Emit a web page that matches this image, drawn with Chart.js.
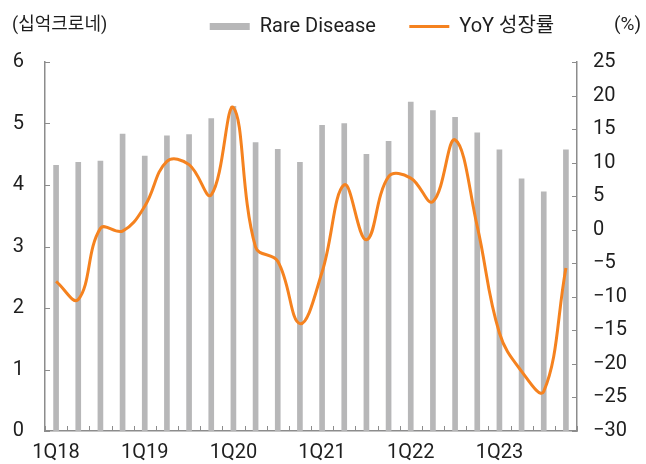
<!DOCTYPE html>
<html>
<head>
<meta charset="utf-8">
<script src="https://cdn.jsdelivr.net/npm/chart.js@4.4.1/dist/chart.umd.min.js"></script>
<style>
  html, body { margin: 0; padding: 0; background: #ffffff; }
  #wrap { width: 646px; height: 464px; }
</style>
</head>
<body>
<div id="wrap"><canvas id="c" width="646" height="464"></canvas></div>
<script>
// ---- data ----
const quarters = [
  '1Q18','2Q18','3Q18','4Q18',
  '1Q19','2Q19','3Q19','4Q19',
  '1Q20','2Q20','3Q20','4Q20',
  '1Q21','2Q21','3Q21','4Q21',
  '1Q22','2Q22','3Q22','4Q22',
  '1Q23','2Q23','3Q23','4Q23'
];
const rareDisease = [
  4.32, 4.37, 4.39, 4.83,
  4.47, 4.80, 4.82, 5.08,
  5.28, 4.69, 4.58, 4.37,
  4.97, 5.00, 4.50, 4.71,
  5.35, 5.21, 5.10, 4.85,
  4.57, 4.10, 3.89, 4.57
];
const yoyGrowth = [
  -7.7, -10.4, 0.2, -0.2,
  3.5, 10.2, 9.7, 5.2,
  18.2, -2.6, -4.7, -14.0,
  -6.3, 6.7, -1.5, 7.9,
  7.7, 4.2, 13.4, 0.5,
  -15.4, -21.1, -24.1, -5.7
];
const leftTicks = [0, 1, 2, 3, 4, 5, 6];
const rightTicks = [-30, -25, -20, -15, -10, -5, 0, 5, 10, 15, 20, 25];
const seriesNames = ['Rare Disease', 'YoY 성장률'];
const leftUnit = '(십억크로네)';
const rightUnit = '(%)';

const BAR_COLOR = '#b7b7b8';
const LINE_COLOR = '#f5821f';
const AXIS_COLOR = '#8c8c8c';
const TEXT_COLOR = '#1e1e1e';
const FONT = 'Roboto, "Noto Sans CJK KR", sans-serif';

const innerTicks = {
  id: 'innerTicks',
  afterDraw(chart) {
    const ctx = chart.ctx;
    const ca = chart.chartArea;
    const sx = chart.scales.x, sy = chart.scales.y, sy1 = chart.scales.y1;
    ctx.save();
    ctx.strokeStyle = AXIS_COLOR;
    ctx.lineWidth = 1;
    ctx.beginPath();
    leftTicks.forEach(v => {
      const y = Math.round(sy.getPixelForValue(v)) + 0.5;
      ctx.moveTo(ca.left, y); ctx.lineTo(ca.left + 5, y);
    });
    rightTicks.forEach(v => {
      const y = Math.round(sy1.getPixelForValue(v)) + 0.5;
      ctx.moveTo(ca.right, y); ctx.lineTo(ca.right - 5, y);
    });
    const step = sx.getPixelForValue(1) - sx.getPixelForValue(0);
    for (let i = 0; i <= quarters.length; i++) {
      const x = Math.round(sx.getPixelForValue(0) - step / 2 + i * step) + 0.5;
      ctx.moveTo(x, ca.bottom); ctx.lineTo(x, ca.bottom - 5);
    }
    ctx.stroke();
    // unit labels
    ctx.fillStyle = TEXT_COLOR;
    ctx.textBaseline = 'middle';
    ctx.font = '18px ' + FONT;
    ctx.textAlign = 'left';
    ctx.fillText(leftUnit, 12, 25);
    ctx.font = '19px ' + FONT;
    ctx.textAlign = 'right';
    ctx.fillText(rightUnit, 641, 25);
    ctx.restore();
  }
};

const legendShift = {
  id: 'legendShift',
  afterLayout(chart) {
    const lg = chart.legend;
    if (!lg) return;
    lg.left = 59;
    lg.right = 59 + 646;
    lg.top = -17;
  }
};

new Chart(document.getElementById('c'), {
  type: 'bar',
  data: {
    labels: quarters,
    datasets: [
      {
        type: 'bar',
        label: seriesNames[0],
        data: rareDisease,
        backgroundColor: BAR_COLOR,
        barThickness: 5,
        yAxisID: 'y',
        order: 1
      },
      {
        type: 'line',
        label: seriesNames[1],
        data: yoyGrowth,
        borderColor: LINE_COLOR,
        backgroundColor: LINE_COLOR,
        borderWidth: 3,
        pointRadius: 0,
        tension: 0.4,
        fill: false,
        yAxisID: 'y1',
        order: 0
      }
    ]
  },
  options: {
    responsive: false,
    devicePixelRatio: 1,
    animation: false,
    layout: { padding: 0 },
    plugins: {
      tooltip: { enabled: false },
      legend: {
        display: true,
        position: 'top',
        maxHeight: 62,
        labels: {
          usePointStyle: true,
          pointStyleWidth: 40,
          boxHeight: 7,
          padding: 33.5,
          color: TEXT_COLOR,
          font: { family: FONT, size: 20 },
          sort: (a, b) => a.datasetIndex - b.datasetIndex,
          generateLabels(chart) {
            const items = Chart.defaults.plugins.legend.labels.generateLabels(chart);
            items.forEach(it => {
              const ds = chart.data.datasets[it.datasetIndex];
              if (ds.type === 'line') {
                it.pointStyle = 'line';
                it.lineWidth = 3;
                it.strokeStyle = LINE_COLOR;
                it.fillStyle = LINE_COLOR;
              } else {
                it.pointStyle = 'rect';
                it.lineWidth = 0;
                it.fillStyle = BAR_COLOR;
                it.strokeStyle = BAR_COLOR;
              }
            });
            return items;
          }
        }
      }
    },
    scales: {
      x: {
        type: 'category',
        offset: true,
        grid: { display: false, drawTicks: false, offset: true },
        border: { display: true, color: AXIS_COLOR, width: 1.5 },
        ticks: {
          autoSkip: false,
          maxRotation: 0,
          minRotation: 0,
          padding: 10,
          color: TEXT_COLOR,
          font: { family: FONT, size: 20 },
          callback: function (v, i) {
            const lab = quarters[i];
            return lab.startsWith('1Q') ? lab : '';
          }
        },
        afterFit(scale) { scale.height = 33; }
      },
      y: {
        position: 'left',
        min: 0,
        max: 6,
        grid: { display: false, drawTicks: false },
        border: { display: true, color: AXIS_COLOR, width: 1.5 },
        ticks: {
          stepSize: 1,
          padding: 21,
          color: TEXT_COLOR,
          font: { family: FONT, size: 20 }
        },
        afterFit(scale) { scale.width = 45; }
      },
      y1: {
        position: 'right',
        min: -30,
        max: 25,
        grid: { display: false, drawTicks: false },
        border: { display: true, color: AXIS_COLOR, width: 1.5 },
        ticks: {
          stepSize: 5,
          padding: 16,
          color: TEXT_COLOR,
          font: { family: FONT, size: 20 },
          callback: v => (v < 0 ? '\u2212' + Math.abs(v) : String(v))
        },
        afterFit(scale) { scale.width = 69; }
      }
    }
  },
  plugins: [innerTicks, legendShift]
});
</script>
</body>
</html>
